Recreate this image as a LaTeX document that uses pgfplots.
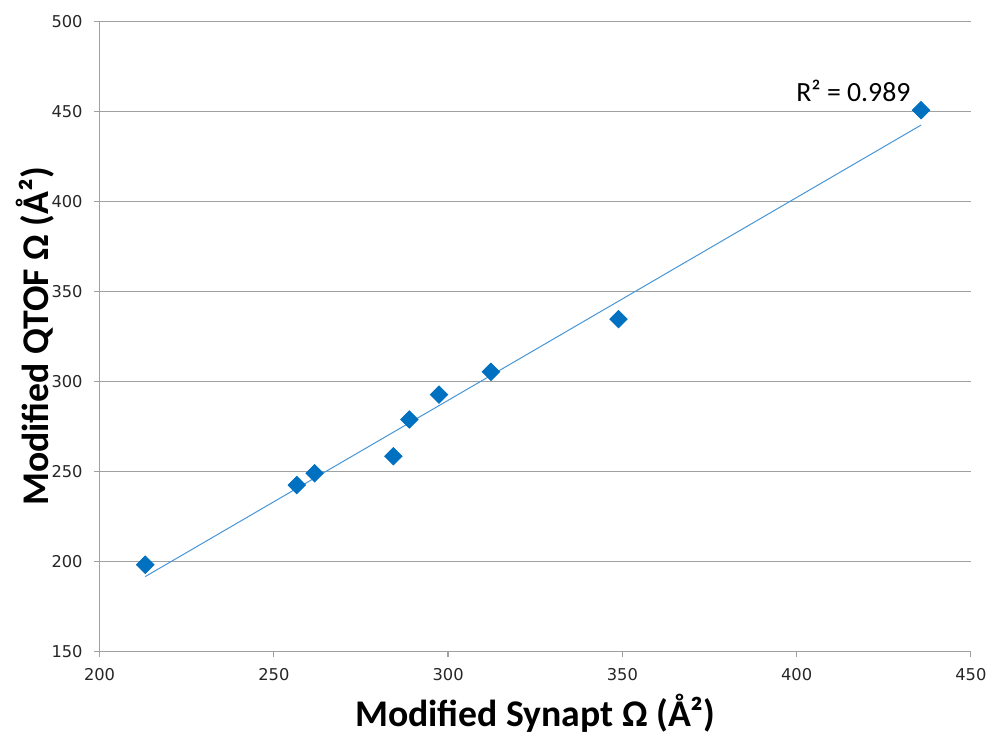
\documentclass[border=0pt]{standalone}
\usepackage{pgfplots}
\pgfplotsset{compat=1.18}
\usepackage{fontspec}
\setmainfont{Carlito}
\newfontfamily\tickfont{DejaVu Sans}
\definecolor{axgray}{RGB}{160,160,160}
\definecolor{ptblue}{RGB}{0,112,192}
\definecolor{trend}{RGB}{70,150,215}
\begin{document}
\begin{tikzpicture}
\begin{axis}[
  scale only axis,
  width=437.5bp, height=316bp,
  xmin=200, xmax=450, ymin=150, ymax=500,
  xtick={200,250,...,450}, ytick={150,200,...,500},
  axis x line*=bottom, axis y line*=left,
  axis line style={-, axgray, line width=0.6bp},
  ymajorgrids, grid style={axgray, line width=0.6bp},
  tick align=outside, major tick length=3bp,
  tick style={axgray, line width=0.6bp},
  tick label style={font=\tickfont\fontsize{8.2}{9.6}\selectfont, text=black!85},
  /pgf/number format/assume math mode=true,
  /pgf/number format/1000 sep={},
  yticklabel style={xshift=-2bp},
  xticklabel style={yshift=-2bp},
  xlabel={\textbf{Modified Synapt Ω (Å²)}},
  ylabel={\textbf{Modified QTOF Ω (Å²)}},
  label style={font=\fontsize{19}{22}\selectfont},
  xlabel style={at={(axis description cs:0.5,-0.098)}, anchor=center},
  ylabel style={at={(axis description cs:-0.0743,0.5)}, anchor=center},
  clip=false,
]
\addplot[trend, line width=0.5bp, no marks] coordinates {(213.1,191.5) (435.7,442.6)};
\addplot[only marks, mark=square*, mark size=3.1bp, mark options={rotate=45, fill=ptblue, draw=ptblue}] coordinates {
(213.1,198.1) (256.6,242.4) (261.7,249.0) (284.3,258.4) (288.9,278.9)
(297.4,292.7) (312.3,305.4) (348.9,334.7) (435.7,450.9)};
\node[font=\fontsize{14}{16}\selectfont, anchor=center] at (axis cs:416.3,461.4) {R² = 0.989};
\end{axis}
\path[use as bounding box] (-50bp,-40bp) rectangle (446.5bp,327bp);
\end{tikzpicture}
\end{document}
